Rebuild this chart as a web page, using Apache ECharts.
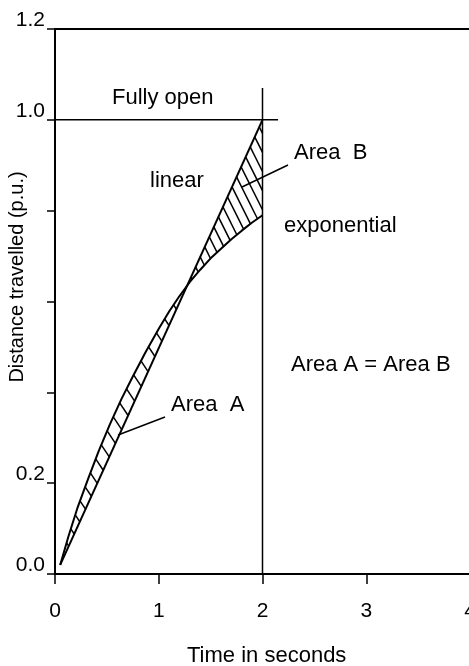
<!DOCTYPE html>
<html><head><meta charset="utf-8">
<script src="https://cdn.jsdelivr.net/npm/echarts@6/dist/echarts.min.js"></script>
<style>html,body{margin:0;padding:0;background:#fff}#c{width:469px;height:666px}</style>
</head><body><div id="c"></div>
<script>
// ---- data ----
const xTickValues = [0, 1, 2, 3, 4];
const yTickValues = [0, 0.2, 0.4, 0.6, 0.8, 1.0, 1.2];
const yTickLabels = ['0.0', '0.2', '', '', '', '1.0', '1.2'];
const linearX = [0.05, 2.0];
const linearY = [0.02, 1.0];
const expX = [0.05, 0.13, 0.22, 0.32, 0.42, 0.53, 0.64, 0.75, 0.87, 1.0, 1.1, 1.2, 1.3, 1.4, 1.5, 1.6, 1.7, 1.8, 1.9, 2.0];
const expY = [0.02, 0.083, 0.148, 0.21, 0.27, 0.33, 0.385, 0.435, 0.487, 0.54, 0.578, 0.612, 0.643, 0.67, 0.695, 0.716, 0.737, 0.756, 0.774, 0.79];
const fullyOpenX = [0, 2.15];
const fullyOpenY = [1.0, 1.0];
const markerX = [2, 2];
const markerY = [0, 1.07];

const FONT = '"Liberation Sans", Arial, Helvetica, sans-serif';
const pairs = (xs, ys) => xs.map((x, i) => [x, ys[i]]);

function xAtY(poly, y) {
  for (let i = 0; i < poly.length - 1; i++) {
    const a = poly[i], b = poly[i + 1];
    if ((y <= a[1] && y >= b[1]) || (y >= a[1] && y <= b[1])) {
      if (a[1] === b[1]) return a[0];
      return a[0] + (b[0] - a[0]) * (y - a[1]) / (b[1] - a[1]);
    }
  }
  return null;
}
function rayHit(p, d, poly) {
  let best = null;
  for (let i = 0; i < poly.length - 1; i++) {
    const a = poly[i], b = poly[i + 1];
    const ex = b[0] - a[0], ey = b[1] - a[1];
    const den = d[0] * ey - d[1] * ex;
    if (Math.abs(den) < 1e-9) continue;
    const wx = a[0] - p[0], wy = a[1] - p[1];
    const t = (wx * ey - wy * ex) / den;
    const s = (wx * d[1] - wy * d[0]) / den;
    if (t > 1e-6 && s >= -1e-6 && s <= 1 + 1e-6) {
      if (best === null || t < best) best = t;
    }
  }
  return best === null ? null : [p[0] + d[0] * best, p[1] + d[1] * best];
}

const chart = echarts.init(document.getElementById('c'), null, {renderer: 'canvas'});
const lineBlack = {color: '#000', width: 2};

const option = {
  backgroundColor: '#fff',
  animation: false,
  grid: {left: 55, right: -1, top: 29, bottom: 92, show: true, borderColor: '#000', borderWidth: 2,
         backgroundColor: 'transparent', containLabel: false, outerBoundsMode: 'none'},
  xAxis: {
    type: 'value', min: 0, max: 4, interval: 1,
    axisLine: {show: true, onZero: false, lineStyle: {color: '#000', width: 2}},
    axisTick: {show: true, inside: false, length: 10, lineStyle: {color: '#000', width: 1.5}},
    axisLabel: {color: '#000', fontSize: 21, fontFamily: FONT, margin: 27,
      formatter: v => (xTickValues.indexOf(v) >= 0 ? String(v) : '')},
    splitLine: {show: false}
  },
  yAxis: {
    type: 'value', min: 0, max: 1.2, interval: 0.2,
    axisLine: {show: true, onZero: false, lineStyle: {color: '#000', width: 2}},
    axisTick: {show: true, inside: false, length: 8, lineStyle: {color: '#000', width: 1.5}},
    axisLabel: {color: '#000', fontSize: 21, fontFamily: FONT, margin: 10, verticalAlign: 'bottom', lineHeight: 18,
      formatter: v => {
        const i = yTickValues.findIndex(t => Math.abs(t - v) < 1e-6);
        return i >= 0 ? yTickLabels[i] : '';
      }},
    splitLine: {show: false}
  },
  series: [
    {type: 'line', data: pairs(linearX, linearY), showSymbol: false, lineStyle: lineBlack, silent: true},
    {type: 'line', data: pairs(expX, expY), showSymbol: false, lineStyle: lineBlack, silent: true},
    {type: 'line', data: pairs(fullyOpenX, fullyOpenY), showSymbol: false, lineStyle: {color: '#000', width: 1.5}, silent: true},
    {type: 'line', data: pairs(markerX, markerY), showSymbol: false, lineStyle: {color: '#000', width: 1.5}, silent: true},
    {
      type: 'custom', silent: true, data: [[0, 0]],
      renderItem: function (params, api) {
        const L = pairs(linearX, linearY).map(p => api.coord(p));
        const E = pairs(expX, expY).map(p => api.coord(p));
        E.push(api.coord([linearX[linearX.length - 1], linearY[linearY.length - 1]]));
        const children = [];
        const yBottom = Math.max(L[0][1], E[0][1]);
        const yTop = L[L.length - 1][1];
        let y = yBottom - 8;
        while (y > yTop + 2) {
          const xl = xAtY(L, y), xe = xAtY(E, y);
          if (xl === null || xe === null) { y -= 5; continue; }
          let start, hit, step;
          if (xe < xl) { start = [xe, y]; hit = rayHit(start, [1, 1.5], L); step = 14; }
          else { start = [xl, y]; hit = rayHit(start, [1, 2], E); step = 10; }
          if (hit) {
            children.push({type: 'line', shape: {x1: start[0], y1: start[1], x2: hit[0], y2: hit[1]},
              style: {stroke: '#000', lineWidth: 1.5}});
          }
          y -= step;
        }
        return {type: 'group', children: children};
      }
    }
  ],
  graphic: [
    {type: 'text', left: 112, top: 87, style: {text: 'Fully open', font: '22px ' + FONT, fill: '#000'}},
    {type: 'text', left: 150, top: 170, style: {text: 'linear', font: '22px ' + FONT, fill: '#000'}},
    {type: 'text', left: 294, top: 142, style: {text: 'Area  B', font: '22px ' + FONT, fill: '#000'}},
    {type: 'text', left: 284, top: 215, style: {text: 'exponential', font: '22px ' + FONT, fill: '#000'}},
    {type: 'text', left: 291, top: 354, style: {text: 'Area A = Area B', font: '22px ' + FONT, fill: '#000'}},
    {type: 'text', left: 171, top: 394, style: {text: 'Area  A', font: '22px ' + FONT, fill: '#000'}},
    {type: 'text', left: 187, top: 645, style: {text: 'Time in seconds', font: '22px ' + FONT, fill: '#000'}},
    {type: 'text', x: 17, y: 277, rotation: Math.PI / 2,
     style: {text: 'Distance travelled (p.u.)', font: '20px ' + FONT, fill: '#000', align: 'center', verticalAlign: 'middle'}},
    {type: 'line', shape: {x1: 118, y1: 435, x2: 165, y2: 417}, style: {stroke: '#000', lineWidth: 1.5}},
    {type: 'line', shape: {x1: 242, y1: 187, x2: 288, y2: 165}, style: {stroke: '#000', lineWidth: 1.5}}
  ]
};
chart.setOption(option);
</script>
</body></html>
